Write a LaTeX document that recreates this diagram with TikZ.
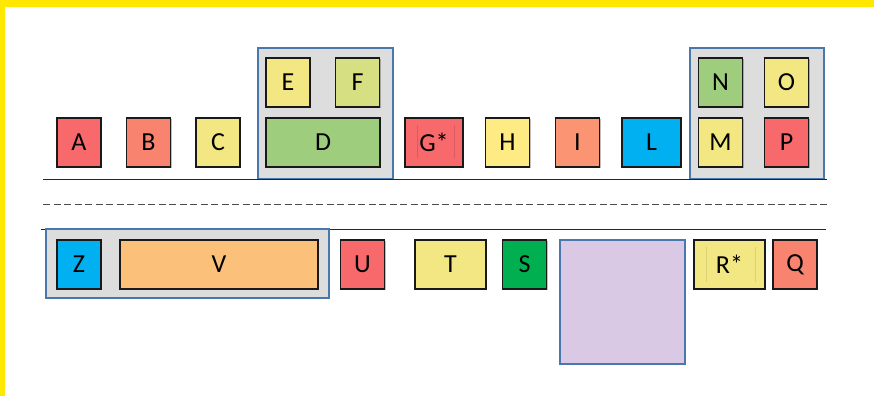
\documentclass[tikz,border=0pt]{standalone}
\usepackage{fontspec}
\setmainfont{Carlito}
\usetikzlibrary{shadows}
\definecolor{fyellow}{HTML}{FFE800}
\definecolor{cred}{HTML}{F8696B}
\definecolor{csalmon}{HTML}{F8836F}
\definecolor{cyel}{HTML}{F2E783}
\definecolor{cyel2}{HTML}{FFEB84}
\definecolor{cyg}{HTML}{D6E083}
\definecolor{cgreen}{HTML}{9FCD7E}
\definecolor{corange}{HTML}{FA9473}
\definecolor{cblue}{HTML}{00B0F0}
\definecolor{cpeach}{HTML}{FBC07A}
\definecolor{cdgreen}{HTML}{00B050}
\definecolor{cpurple}{HTML}{D9C9E5}
\definecolor{gborder}{HTML}{4A78AC}
\definecolor{gfill}{HTML}{DDDDDD}
\tikzset{
  cell/.style={draw=black!90, line width=1.4pt, minimum width=44pt, minimum height=49pt,
    inner sep=0pt, font=\fontsize{26}{30}\selectfont,
    drop shadow={shadow xshift=1pt, shadow yshift=-1pt, opacity=0.25, fill=black}},
  grp/.style={draw=gborder, fill=gfill, line width=1.6pt, inner sep=0pt},
  sepline/.style={line width=1pt, draw=black!85},
  dashline/.style={line width=0.9pt, draw=black!70, dash pattern=on 7pt off 3.5pt},
  faint/.style={line width=0.5pt}
}
\begin{document}
\begin{tikzpicture}[x=1pt,y=-1pt]
\useasboundingbox (0,0) rectangle (874,396);
\fill[white] (0,0) rectangle (874,396);
% frame
\fill[fyellow] (0,0) rectangle (874,7);
\fill[fyellow] (0,0) rectangle (5,396);
% groups
\node[grp, minimum width=135pt, minimum height=131pt] (g1) at (325.5,113.5) {};
\node[grp, minimum width=134pt, minimum height=131pt] (g2) at (757,113.5) {};
% separator lines
\coordinate (l1a) at (43,179); \coordinate (l1b) at (827,179);
\coordinate (l2a) at (43,204); \coordinate (l2b) at (827,204);
\coordinate (l3a) at (41,229); \coordinate (l3b) at (826,229);
\draw[sepline] (l1a) -- (l1b);
\draw[dashline] (l2a) -- (l2b);
\draw[sepline] (l3a) -- (l3b);
\node[grp, minimum width=283pt, minimum height=69pt] (g3) at (187.5,263.5) {};
% top row
\node[cell, fill=cred] (A) at (79,142.5) {A};
\node[cell, fill=csalmon] (B) at (148.5,142.5) {B};
\node[cell, fill=cyel] (C) at (218,142.5) {C};
\node[cell, fill=cyel] (E) at (288,82.5) {E};
\node[cell, fill=cyg] (F) at (357.5,82.5) {F};
\node[cell, fill=cgreen, minimum width=114pt] (D) at (323,142.5) {D};
\node[cell, fill=cred, minimum width=58pt] (G) at (434,142.5) {G*};
\draw[faint, draw=cred!88!black] (417,125) -- (417,158);
\draw[faint, draw=cred!88!black] (454,125) -- (454,158);
\node[cell, fill=cyel2] (H) at (507.5,142.5) {H};
\node[cell, fill=corange] (I) at (577.5,142.5) {I};
\node[cell, fill=cblue, minimum width=59pt] (L) at (651.5,142.5) {L};
\node[cell, fill=cgreen] (N) at (720.5,82.5) {N};
\node[cell, fill=cyel] (O) at (786.5,82.5) {O};
\node[cell, fill=cyel] (M) at (720.5,142.5) {M};
\node[cell, fill=cred] (P) at (786.5,142.5) {P};
% bottom row
\node[cell, fill=cblue] (Z) at (79,264.5) {Z};
\node[cell, fill=cpeach, minimum width=198pt] (V) at (219,264.5) {V};
\node[cell, fill=cred] (U) at (362.5,264.5) {U};
\node[cell, fill=cyel, minimum width=71pt] (T) at (450.5,264.5) {T};
\node[cell, fill=cdgreen] (S) at (524.5,264.5) {S};
\node[draw=gborder, fill=cpurple, line width=1.6pt, minimum width=125pt, minimum height=124pt, inner sep=0pt] (X) at (622.5,302) {};
\node[cell, fill=cyel, minimum width=71pt] (R) at (729.5,264.5) {R*};
\draw[faint, draw=cyel!90!black] (706,247) -- (706,282);
\draw[faint, draw=cyel!90!black] (755,247) -- (755,282);
\node[cell, fill=csalmon] (Q) at (795,264.5) {Q};
\end{tikzpicture}
\end{document}
